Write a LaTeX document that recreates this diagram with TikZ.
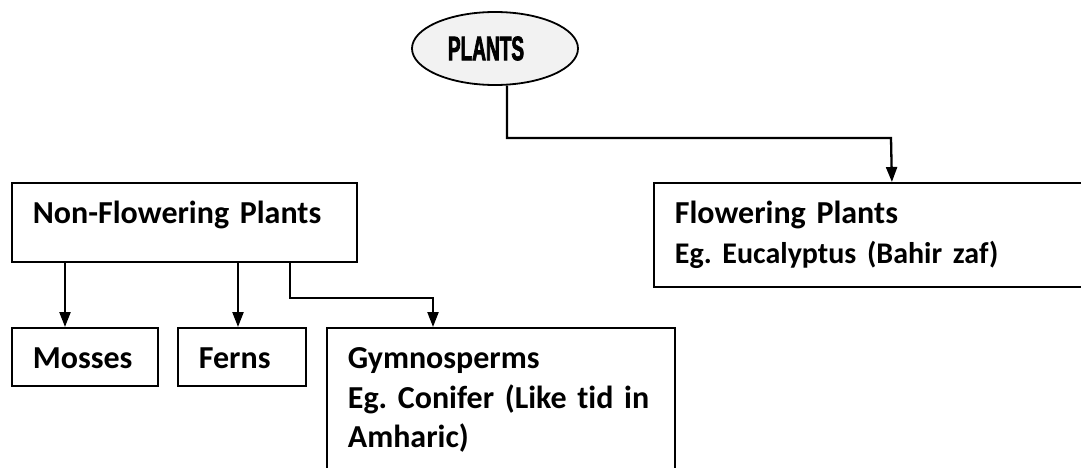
\documentclass[tikz,border=0pt]{standalone}
\usepackage{fontspec}
\setmainfont{Carlito}[Ligatures=NoCommon]
\newfontfamily\titlefont{Liberation Sans}[FakeStretch=0.56,FakeBold=2]
\usetikzlibrary{shapes.geometric,arrows.meta}
\frenchspacing
\begin{document}
\begin{tikzpicture}[x=1pt,y=1pt,
    bx/.style={draw,line width=1.8pt,anchor=north west,align=left,inner xsep=21pt,inner ysep=0pt,
        font=\fontsize{32}{39.5}\selectfont\bfseries,text height=41pt},
    arr/.style={line width=2.3pt,-{Triangle[length=15pt,width=11pt]}}]
    \useasboundingbox (0,0) rectangle (1081,-468);
    \node[ellipse,draw,line width=1.8pt,fill=gray!10,minimum width=166pt,minimum height=73pt,inner sep=0pt,
        font=\titlefont\bfseries\fontsize{34}{36}\selectfont] (plants) at (495,-48.5) {PLANTS\kern18pt};
    \node[bx,text width=303pt,text depth=38pt] (nf) at (11,-182) {Non-Flowering Plants};
    \node[bx,text width=434pt,text depth=63pt] (flower) at (653,-182) {Flowering Plants\\\fontsize{30}{40}\selectfont Eg. Eucalyptus (Bahir zaf)};
    \node[bx,text width=104pt,text depth=17pt] (mosses) at (11,-327) {Mosses};
    \node[bx,text width=86pt,text depth=17pt] (ferns) at (177,-327) {Ferns};
    \node[bx,text width=306pt,text depth=130pt] (gymno) at (326,-327) {Gymnosperms\\Eg. Conifer (Like tid in\\Amharic)};
    % bends of the connectors
    \coordinate (mx) at (65,0);
    \coordinate (fx) at (238,0);
    \coordinate (gx) at (290,0);
    \coordinate (gbend) at (433,-298);
    \coordinate (fbend) at (891,-138);
    \draw[arr] (plants.-72) |- (fbend) -- (flower.north);
    \draw[arr] (nf.south -| mx) -- (mosses.north -| mx);
    \draw[arr] (nf.south -| fx) -- (ferns.north -| fx);
    \draw[arr] (nf.south -| gx) |- (gbend) -- (gymno.north -| gbend);
\end{tikzpicture}
\end{document}
